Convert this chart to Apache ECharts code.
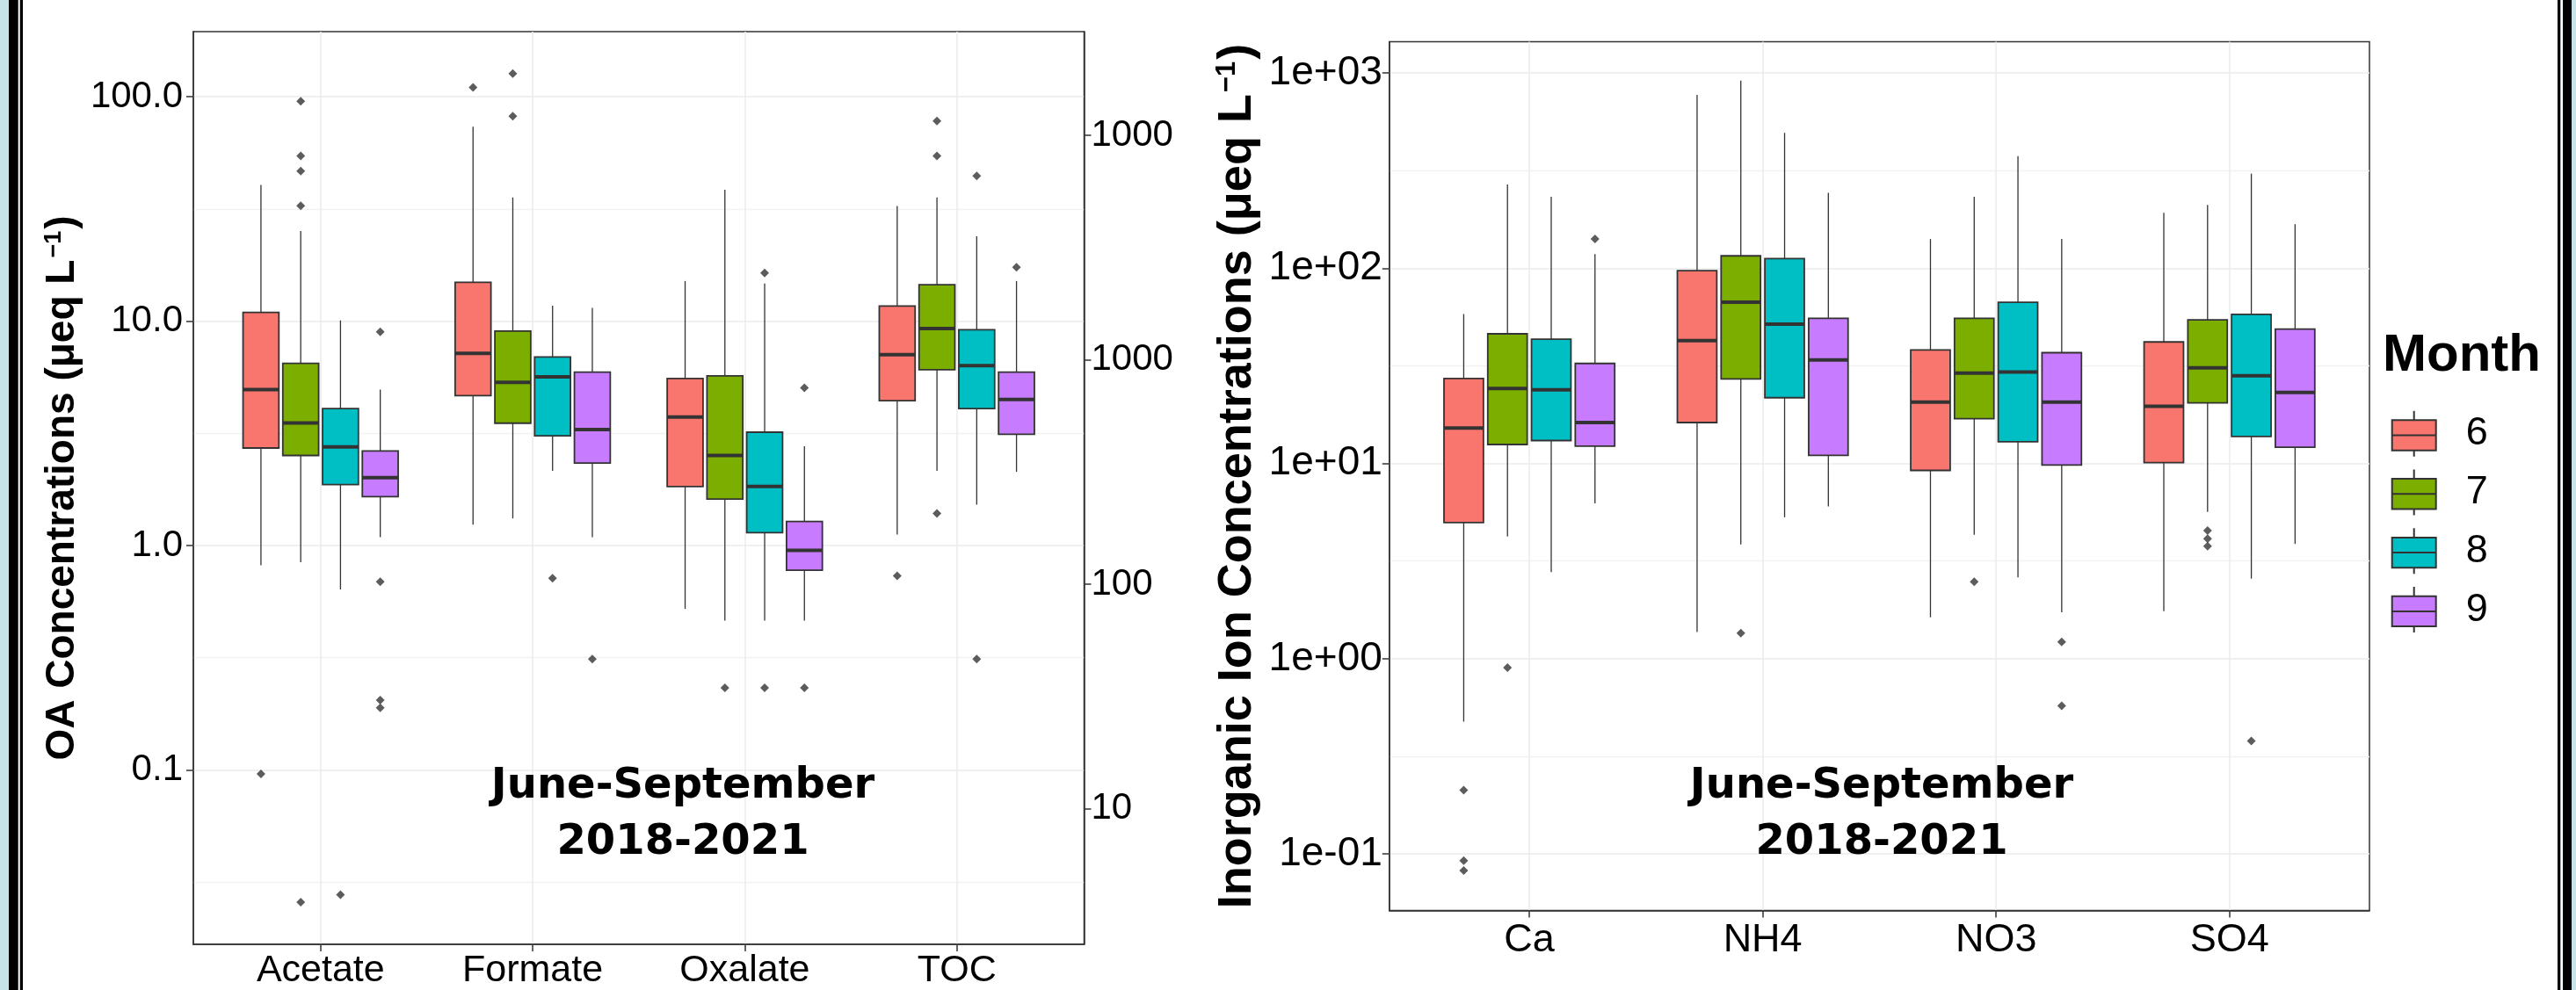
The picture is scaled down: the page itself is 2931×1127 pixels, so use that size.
<!DOCTYPE html>
<html><head><meta charset="utf-8">
<script src="https://cdn.jsdelivr.net/npm/echarts@6.0.0/dist/echarts.min.js"></script>
<style>html,body{margin:0;padding:0;background:#fff;}#chart{width:2931px;height:1127px;}</style>
</head><body><div id="chart"></div>
<script>
// ---------- data ----------
const months = ['6', '7', '8', '9'];
const monthColors = ['#F8766D', '#7CAE00', '#00BFC4', '#C77CFF'];

const oaCategories = ['Acetate', 'Formate', 'Oxalate', 'TOC'];
const ionCategories = ['Ca', 'NH4', 'NO3', 'SO4'];

// tick labels (log10 exponent -> text)
const oaTickExps = [-1, 0, 1, 2];
const oaTickLabels = ['0.1', '1.0', '10.0', '100.0'];
const tocTickExps = [1, 2, 3, 4];
const tocTickLabels = ['10', '100', '1000', '1000'];
const ionTickExps = [-1, 0, 1, 2, 3];
const ionTickLabels = ['1e-01', '1e+00', '1e+01', '1e+02', '1e+03'];

// box statistics per category: [lower whisker, Q1, median, Q3, upper whisker]
const oaJun = [[0.817, 2.72, 4.95, 10.95, 40.5], [1.24, 4.66, 7.19, 14.9, 73.5], [0.522, 1.83, 3.74, 5.55, 15.1], [1.12, 4.42, 7.09, 11.69, 32.6]];
const oaJul = [[0.843, 2.52, 3.52, 6.48, 25.2], [1.32, 3.51, 5.34, 9.03, 35.6], [0.463, 1.61, 2.52, 5.70, 38.5], [2.15, 6.07, 9.28, 14.54, 35.6]];
const oaAug = [[0.637, 1.87, 2.75, 4.08, 10.08], [2.15, 3.08, 5.65, 6.92, 11.73], [0.463, 1.14, 1.835, 3.2, 14.7], [1.52, 4.08, 6.33, 9.15, 23.9]];
const oaSep = [[1.09, 1.65, 2.005, 2.64, 4.95], [1.09, 2.33, 3.29, 5.93, 11.45], [0.463, 0.776, 0.952, 1.28, 2.77], [2.13, 3.13, 4.48, 5.93, 15.1]];

// outliers: [category index, value]
const oaOutJun = [[0, 0.096], [1, 110], [3, 0.733]];
const oaOutJul = [[0, 95.6], [0, 54.5], [0, 46.7], [0, 32.7], [0, 0.0257], [1, 126.9], [1, 81.9], [2, 0.232], [3, 78], [3, 54.5], [3, 1.39]];
const oaOutAug = [[0, 0.0278], [1, 0.714], [2, 16.4], [2, 0.232], [3, 44.4], [3, 0.312]];
const oaOutSep = [[0, 8.97], [0, 0.689], [0, 0.2046], [0, 0.189], [1, 0.312], [2, 5.05], [2, 0.232], [3, 17.4]];

const ionJun = [[0.476, 4.98, 15.2, 27.2, 58.2], [1.37, 16.2, 42.5, 97, 772], [1.63, 9.21, 20.6, 38.1, 141], [1.75, 10.1, 19.6, 41.9, 192]];
const ionJul = [[4.22, 12.5, 24.2, 46.1, 268], [3.85, 27.1, 66.9, 115.6, 912], [4.31, 16.96, 29.0, 55.3, 232], [5.64, 20.4, 30.9, 54.4, 211]];
const ionAug = [[2.78, 13.1, 23.8, 43.3, 232], [5.3, 21.7, 51.7, 112, 493], [2.61, 12.9, 29.4, 66.9, 375], [2.57, 13.75, 28.1, 58.0, 305]];
const ionSep = [[6.25, 12.27, 16.2, 32.5, 118], [6.03, 11.0, 33.9, 55.3, 243], [1.73, 9.81, 20.6, 36.9, 141], [3.87, 12.1, 23.1, 48.7, 168]];

const ionOutJun = [[0, 0.212], [0, 0.0923], [0, 0.0822]];
const ionOutJul = [[0, 0.901], [1, 1.35], [2, 2.48], [3, 4.53], [3, 4.12], [3, 3.77]];
const ionOutAug = [[3, 0.379]];
const ionOutSep = [[0, 141], [2, 1.22], [2, 0.573]];

// ---------- build ----------
const FONT = 'Liberation Sans, Arial, sans-serif';
const DODGE = 0.1875, BOXW = 0.169;

function boxRender(params, api) {
  const x = api.value(0);
  const lo = api.coord([x, api.value(1)]);
  const q1 = api.coord([x, api.value(2)]);
  const md = api.coord([x, api.value(3)]);
  const q3 = api.coord([x, api.value(4)]);
  const hi = api.coord([x, api.value(5)]);
  const w = api.size([BOXW, 0])[0];
  const color = api.visual('color');
  return {
    type: 'group', children: [
      { type: 'line', shape: { x1: hi[0], y1: hi[1], x2: q3[0], y2: q3[1] }, style: { stroke: '#333', lineWidth: 1.3 } },
      { type: 'line', shape: { x1: q1[0], y1: q1[1], x2: lo[0], y2: lo[1] }, style: { stroke: '#333', lineWidth: 1.3 } },
      { type: 'rect', shape: { x: q3[0] - w / 2, y: q3[1], width: w, height: q1[1] - q3[1] }, style: { fill: color, stroke: '#333', lineWidth: 1.8 } },
      { type: 'rect', shape: { x: md[0] - w / 2, y: md[1] - 2, width: w, height: 4 }, style: { fill: '#333' } }
    ]
  };
}

function panelSeries(statsList, outList, xi, yi) {
  const out = [];
  statsList.forEach((stats, mi) => {
    const d = (mi - 1.5) * DODGE;
    out.push({
      type: 'custom', name: months[mi], xAxisIndex: xi, yAxisIndex: yi,
      itemStyle: { color: monthColors[mi], borderColor: '#333', borderWidth: 2 },
      renderItem: boxRender, encode: { x: 0, y: [1, 2, 3, 4, 5] },
      data: stats.map((s, ci) => [ci + d].concat(s.map(v => Math.log10(v))))
    });
  });
  outList.forEach((outs, mi) => {
    const d = (mi - 1.5) * DODGE;
    out.push({
      type: 'scatter', name: 'outlier ' + months[mi], xAxisIndex: xi, yAxisIndex: yi,
      symbol: 'diamond', symbolSize: 10, itemStyle: { color: '#333' }, silent: true,
      data: outs.map(([ci, v]) => [ci + d, Math.log10(v)])
    });
  });
  return out;
}

function labelFrom(exps, labels) {
  return v => {
    const i = Math.round(v);
    if (Math.abs(v - i) > 1e-6) return '';
    const k = exps.indexOf(i);
    return k >= 0 ? labels[k] : '';
  };
}

const axisLineStyle = { show: true, onZero: false, lineStyle: { color: '#333', width: 1.5 } };

function makeX(gridIndex, cats, fontSize, margin) {
  return {
    type: 'value', gridIndex, min: -0.6, max: 3.6,
    axisLine: axisLineStyle,
    axisTick: { show: true, length: 8, lineStyle: { color: '#333', width: 1.5 }, customValues: [0, 1, 2, 3] },
    axisLabel: { customValues: [0, 1, 2, 3], formatter: v => (Number.isInteger(v) && cats[v] !== undefined) ? cats[v] : '', fontSize, fontFamily: FONT, color: '#000', margin },
    splitLine: { show: true, lineStyle: { color: '#ebebeb', width: 1.5 } }
  };
}

function makeY(gridIndex, min, max, exps, labels, fontSize, margin, extra) {
  return Object.assign({
    type: 'value', gridIndex, min, max, position: 'left',
    axisLine: axisLineStyle,
    axisTick: { show: true, length: 8, lineStyle: { color: '#333', width: 1.5 }, customValues: exps },
    axisLabel: { customValues: exps, formatter: labelFrom(exps, labels), fontSize, fontFamily: FONT, color: '#000', margin },
    splitLine: { show: true, lineStyle: { color: '#ebebeb', width: 1.5 } },
    minorTick: { show: false, splitNumber: 2 },
    minorSplitLine: { show: true, lineStyle: { color: '#f1f1f1', width: 1.3 } }
  }, extra || {});
}

const titleRich = (size, gapSize) => ({
  t: { fontSize: size, fontWeight: 'bold', fontFamily: FONT, color: '#000' },
  s: { fontSize: gapSize, fontWeight: 'bold', fontFamily: FONT, color: '#000', verticalAlign: 'top', padding: [0, 2, 18, 2] }
});

const option = {
  animation: false,
  backgroundColor: '#fff',
  grid: [
    { left: 220, top: 36, width: 1013.5, height: 1039, show: true, borderColor: '#333', borderWidth: 1.5, backgroundColor: 'transparent' },
    { left: 1580.8, top: 47.4, width: 1115.2, height: 989.2, show: true, borderColor: '#333', borderWidth: 1.5, backgroundColor: 'transparent' }
  ],
  xAxis: [makeX(0, oaCategories, 43, 9), makeX(1, ionCategories, 45, 11)],
  yAxis: [
    makeY(0, -1.7776, 2.2905, oaTickExps, oaTickLabels, 42, 12, {
      name: '{t|OA Concentrations (μeq L}{s|−1}{t|)}', nameLocation: 'middle', nameGap: 126,
      nameTextStyle: { rich: titleRich(46, 27) }
    }),
    makeY(0, 0.3947, 4.4628, tocTickExps, tocTickLabels, 42, 8, {
      position: 'right', splitLine: { show: false }, minorSplitLine: { show: false }
    }),
    makeY(1, -1.290, 3.160, ionTickExps, ionTickLabels, 46, 8, {
      name: '{t|Inorganic Ion Concentrations (μeq L}{s|−1}{t|)}', nameLocation: 'middle', nameGap: 146,
      nameTextStyle: { rich: titleRich(54, 31) }
    })
  ],
  title: [{
    text: 'Month', left: 2711, top: 375, padding: 0,
    textStyle: { fontSize: 60, fontWeight: 'bold', fontFamily: FONT, color: '#000' }
  }],
  legend: {
    data: months, orient: 'vertical', left: 2720.7, top: 466.7, padding: 0,
    itemWidth: 50, itemHeight: 52, itemGap: 12.8, selectedMode: false,
    icon: 'path://M25,0L25,10.6M0,10.6L50,10.6L50,45L0,45ZM0,27.8L50,27.8M25,45L25,52',
    itemStyle: { borderColor: '#333', borderWidth: 2 },
    formatter: n => '{a|' + n + '}',
    textStyle: { rich: { a: { fontSize: 45, fontFamily: FONT, color: '#000', padding: [0, 0, 0, 29] } } }
  },
  graphic: [
    { type: 'rect', shape: { x: 0, y: 0, width: 10, height: 1127 }, style: { fill: '#c6e3e7' }, z: 100 },
    { type: 'rect', shape: { x: 10, y: 0, width: 10.7, height: 1127 }, style: { fill: '#000' }, z: 100 },
    { type: 'rect', shape: { x: 22.7, y: 0, width: 3.3, height: 1127 }, style: { fill: '#000' }, z: 100 },
    { type: 'rect', shape: { x: 2910, y: 0, width: 3.3, height: 1127 }, style: { fill: '#000' }, z: 100 },
    { type: 'rect', shape: { x: 2916, y: 0, width: 10, height: 1127 }, style: { fill: '#000' }, z: 100 },
    { type: 'rect', shape: { x: 2926, y: 0, width: 5, height: 1127 }, style: { fill: '#c6e3e7' }, z: 100 },
    { type: 'text', x: 777, y: 928, z: 100, style: { text: 'June-September\n2018-2021', align: 'center', verticalAlign: 'middle', font: 'bold 48px "DejaVu Sans", sans-serif', lineHeight: 64, fill: '#000' } },
    { type: 'text', x: 2141, y: 928, z: 100, style: { text: 'June-September\n2018-2021', align: 'center', verticalAlign: 'middle', font: 'bold 48px "DejaVu Sans", sans-serif', lineHeight: 64, fill: '#000' } }
  ],
  series: [].concat(
    panelSeries([oaJun, oaJul, oaAug, oaSep], [oaOutJun, oaOutJul, oaOutAug, oaOutSep], 0, 0),
    panelSeries([ionJun, ionJul, ionAug, ionSep], [ionOutJun, ionOutJul, ionOutAug, ionOutSep], 1, 2)
  )
};

const chart = echarts.init(document.getElementById('chart'), null, { renderer: 'canvas' });
chart.setOption(option);
</script></body></html>
